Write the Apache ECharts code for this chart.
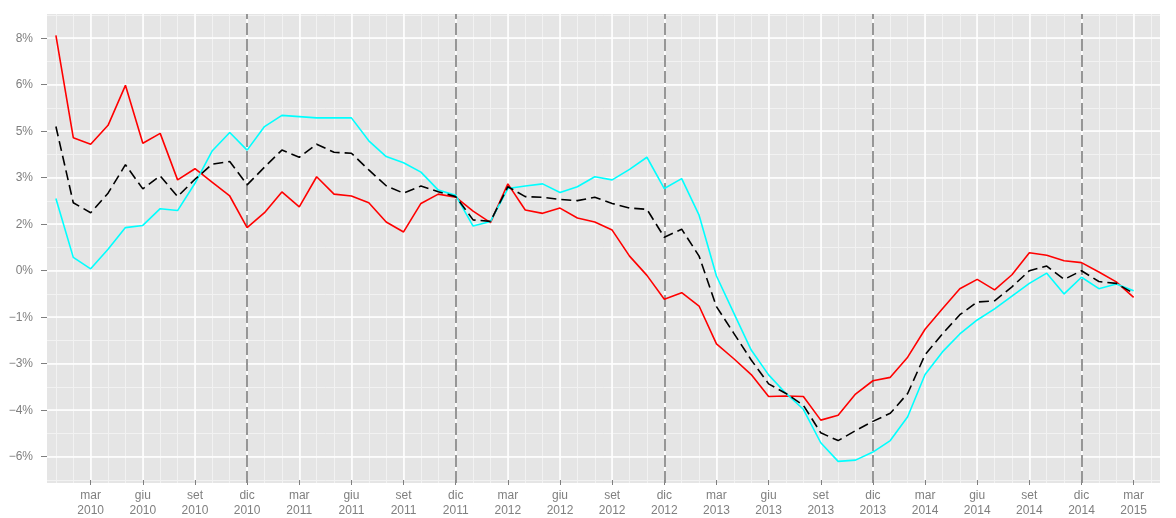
<!DOCTYPE html>
<html><head><meta charset="utf-8">
<script src="https://cdn.jsdelivr.net/npm/echarts@6/dist/echarts.min.js"></script>
<style>html,body{margin:0;padding:0;background:#fff}#c{width:1176px;height:518px}</style>
</head><body><div id="c"></div>
<script>
// Monthly data, Jan 2010 .. Mar 2015 (values in %)
const months = [
 '2010-01','2010-02','2010-03','2010-04','2010-05','2010-06','2010-07','2010-08','2010-09','2010-10','2010-11','2010-12',
 '2011-01','2011-02','2011-03','2011-04','2011-05','2011-06','2011-07','2011-08','2011-09','2011-10','2011-11','2011-12',
 '2012-01','2012-02','2012-03','2012-04','2012-05','2012-06','2012-07','2012-08','2012-09','2012-10','2012-11','2012-12',
 '2013-01','2013-02','2013-03','2013-04','2013-05','2013-06','2013-07','2013-08','2013-09','2013-10','2013-11','2013-12',
 '2014-01','2014-02','2014-03','2014-04','2014-05','2014-06','2014-07','2014-08','2014-09','2014-10','2014-11','2014-12',
 '2015-01','2015-02','2015-03'];
const redValues = [
 7.59, 4.29, 4.08, 4.69, 5.98, 4.11, 4.43, 2.93, 3.29, 2.85, 2.41, 1.39,
 1.87, 2.54, 2.06, 3.03, 2.47, 2.41, 2.19, 1.57, 1.25, 2.17, 2.47, 2.37,
 1.92, 1.55, 2.80, 1.96, 1.85, 2.02, 1.70, 1.57, 1.31, 0.47, -0.15, -0.92,
 -0.71, -1.14, -2.36, -2.84, -3.35, -4.06, -4.04, -4.06, -4.82, -4.66, -3.98, -3.55,
 -3.44, -2.79, -1.89, -1.23, -0.58, -0.28, -0.62, -0.13, 0.58, 0.50, 0.32, 0.26,
 -0.04, -0.36, -0.86];
const blackValues = [
 4.65, 2.19, 1.87, 2.50, 3.42, 2.64, 3.06, 2.39, 2.95, 3.44, 3.52, 2.77,
 3.34, 3.89, 3.66, 4.08, 3.82, 3.79, 3.25, 2.74, 2.50, 2.73, 2.55, 2.39,
 1.64, 1.59, 2.71, 2.39, 2.37, 2.30, 2.26, 2.37, 2.17, 2.02, 1.98, 1.08,
 1.34, 0.47, -1.16, -2.02, -2.88, -3.65, -3.96, -4.34, -5.23, -5.48, -5.16, -4.86,
 -4.60, -3.96, -2.71, -2.04, -1.42, -1.01, -0.97, -0.52, 0.00, 0.15, -0.28, 0.00,
 -0.35, -0.41, -0.73];
const cyanValues = [
 2.33, 0.43, 0.06, 0.69, 1.39, 1.46, 2.00, 1.94, 2.82, 3.87, 4.46, 3.89,
 4.65, 5.01, 4.97, 4.93, 4.93, 4.93, 4.19, 3.68, 3.48, 3.18, 2.60, 2.43,
 1.44, 1.59, 2.65, 2.73, 2.80, 2.52, 2.71, 3.03, 2.93, 3.27, 3.66, 2.65,
 2.97, 1.79, -0.17, -1.37, -2.56, -3.36, -3.96, -4.47, -5.55, -6.15, -6.11, -5.85,
 -5.48, -4.71, -3.35, -2.62, -2.04, -1.59, -1.23, -0.82, -0.41, -0.08, -0.75, -0.21,
 -0.58, -0.43, -0.65];
// x positions: months since Dec 2009 (Jan 2010 = 1)
const xTickLabels = {
 3:'mar\n2010',6:'giu\n2010',9:'set\n2010',12:'dic\n2010',
 15:'mar\n2011',18:'giu\n2011',21:'set\n2011',24:'dic\n2011',
 27:'mar\n2012',30:'giu\n2012',33:'set\n2012',36:'dic\n2012',
 39:'mar\n2013',42:'giu\n2013',45:'set\n2013',48:'dic\n2013',
 51:'mar\n2014',54:'giu\n2014',57:'set\n2014',60:'dic\n2014',
 63:'mar\n2015'};
const yTickLabels = {'-6':'\u22126%','-4.5':'\u22124%','-3':'\u22123%','-1.5':'\u22121%','0':'0%',
 '1.5':'2%','3':'3%','4.5':'5%','6':'6%','7.5':'8%'};
const decemberLines = [12, 24, 36, 48, 60];

// layout (pixels)
const L = 47, R = 1160, T = 14, B = 483;
const M = 17.383;            // px per month
const X0 = 38.52;            // pixel of x = 0
const Y0 = 270.7, P = 31;    // pixel of 0%, px per 1%
const W = 1176, H = 518;
const xAt = v => X0 + v * M;
const yAt = v => Y0 - v * P;

const toPts = arr => arr.map((v, i) => [i + 1, v]);
const font = 'Liberation Sans, Arial, Helvetica, sans-serif';
const grey = '#7F7F7F';

const hiddenX = (gi, min, max) => ({gridIndex: gi, type: 'value', show: false, min: min, max: max});
const hiddenY = (gi, min, max) => ({gridIndex: gi, type: 'value', show: false, min: min, max: max});

const chart = echarts.init(document.getElementById('c'), null, {renderer: 'canvas'});
chart.setOption({
  animation: false,
  backgroundColor: '#ffffff',
  grid: [
    {left: L, top: T, width: R - L, height: B - T, show: true, backgroundColor: '#E5E5E5', borderWidth: 0},
    {left: xAt(1), top: T, width: xAt(64) - xAt(1), height: B - T},
    {left: xAt(3), top: T, width: xAt(63) - xAt(3), height: B - T},
    {left: L, top: yAt(8.25), width: R - L, height: yAt(-6.75) - yAt(8.25)},
    {left: L, top: yAt(7.5), width: R - L, height: yAt(-6) - yAt(7.5)}
  ],
  xAxis: [
    hiddenX(0, (L - X0) / M, (R - X0) / M),
    {gridIndex: 1, type: 'value', min: 1, max: 64, interval: 1,
     axisLine: {show: false}, axisTick: {show: false}, axisLabel: {show: false},
     splitLine: {show: true, lineStyle: {color: '#F2F2F2', width: 1}}},
    {gridIndex: 2, type: 'value', min: 3, max: 63, interval: 3, z: 1,
     axisLine: {show: false},
     axisTick: {show: true, length: 5, lineStyle: {color: grey, width: 1}},
     axisLabel: {show: true, margin: 8, color: grey, fontSize: 12, fontFamily: font, lineHeight: 15,
       formatter: v => xTickLabels[Math.round(v)] || ''},
     splitLine: {show: true, lineStyle: {color: '#FFFFFF', width: 1.5}}},
    hiddenX(3, 0, 1),
    hiddenX(4, 0, 1)
  ],
  yAxis: [
    hiddenY(0, (Y0 - B) / P, (Y0 - T) / P),
    hiddenY(1, 0, 1),
    hiddenY(2, 0, 1),
    {gridIndex: 3, type: 'value', min: -6.75, max: 8.25, interval: 0.75,
     axisLine: {show: false}, axisTick: {show: false}, axisLabel: {show: false},
     splitLine: {show: true, lineStyle: {color: '#F2F2F2', width: 1}}},
    {gridIndex: 4, type: 'value', min: -6, max: 7.5, interval: 1.5, z: 1,
     axisLine: {show: false},
     axisTick: {show: true, length: 6, lineStyle: {color: grey, width: 1}},
     axisLabel: {show: true, margin: 14, color: grey, fontSize: 12, fontFamily: font,
       formatter: v => yTickLabels[String(Math.round(v * 100) / 100)] || ''},
     splitLine: {show: true, lineStyle: {color: '#FFFFFF', width: 1.5}}}
  ],
  series: [
    {type: 'line', name: 'rosso', xAxisIndex: 0, yAxisIndex: 0, data: toPts(redValues),
     symbol: 'none', z: 3, lineStyle: {color: '#FF0000', width: 1.6},
     markLine: {silent: true, symbol: 'none', z: 2, label: {show: false},
       lineStyle: {color: '#8C8C8C', type: [12, 4], width: 1.8},
       data: decemberLines.map(v => ({xAxis: v}))}},
    {type: 'line', name: 'ciano', xAxisIndex: 0, yAxisIndex: 0, data: toPts(cyanValues),
     symbol: 'none', z: 3, lineStyle: {color: '#00FFFF', width: 1.6}},
    {type: 'line', name: 'nero', xAxisIndex: 0, yAxisIndex: 0, data: toPts(blackValues),
     symbol: 'none', z: 4, lineStyle: {color: '#000000', width: 1.6, type: [10, 5]}}
  ]
});
</script>
</body></html>
